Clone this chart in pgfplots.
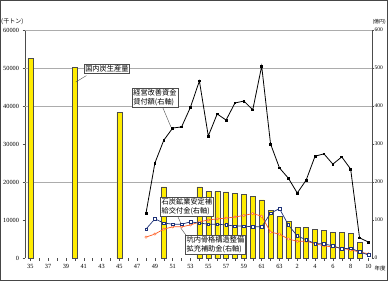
\documentclass[border=0pt]{standalone}
\usepackage{pgfplots}
\pgfplotsset{compat=1.18}
\usepackage{fontspec}
\setmainfont{Liberation Serif}
\newfontfamily\jp{Noto Sans CJK JP}
\definecolor{baryellow}{RGB}{255,236,0}
\definecolor{navy}{RGB}{30,50,120}
\definecolor{orng}{RGB}{255,90,30}
\tikzset{box/.style={draw=gray!60!black, fill=white, inner sep=1.2pt, font=\jp\fontsize{7.2}{9}\selectfont, align=left}}
\begin{document}
\begin{tikzpicture}[x=1pt,y=1pt]
\useasboundingbox (-25,-23) rectangle (363,258);
\draw[gray!55!black, line width=0.8pt] (-24.6,-22.6) rectangle (362.6,257.6);
\begin{axis}[at={(0,0)}, anchor=south west, scale only axis,
  width=347pt, height=228pt,
  xmin=1959.4, xmax=1998.4, ymin=0, ymax=60000,
  scaled y ticks=false, scaled x ticks=false,
  axis y line*=left, axis x line*=bottom,
  x axis line style={draw=none},
  y axis line style={gray!60!black, line width=0.5pt},
  xtick={1960,1962,...,1998},
  xticklabels={35,37,39,41,43,45,47,49,51,53,55,57,59,61,63,2,4,6,8,10},
  minor xtick={1961,1963,...,1997},
  tick align=outside,
  major tick length=2.5pt, minor tick length=2.5pt,
  every tick/.style={gray!60!black, line width=0.4pt},
  ytick={0,10000,...,60000},
  yticklabels={0,10000,20000,30000,40000,50000,60000},
  tick label style={font=\fontsize{6.3}{7}\selectfont},
  extra y ticks={20000,40000,50000,60000},
  extra y tick labels={},
  extra y tick style={grid=major, major grid style={gray!65, line width=0.7pt}, major tick length=0pt},
  clip=false,
]
\addplot[ybar, bar width=5pt, fill=baryellow, draw=gray!60!black, line width=0.35pt] coordinates {
(1960,52600) (1965,50100) (1970,38300) (1975,18700)
(1979,18700) (1980,17500) (1981,17500) (1982,17400) (1983,17000) (1984,16800)
(1985,16300) (1986,15300) (1987,12600) (1988,10900) (1989,9600) (1990,8100)
(1991,8100) (1992,7600) (1993,7200) (1994,6800) (1995,6700) (1996,6500) (1997,4200)
};
\node[font=\jp\fontsize{6}{7}\selectfont, anchor=east, inner sep=0.5pt] at (rel axis cs:0,1) [xshift=-1pt, yshift=8pt] {(千トン)};
\end{axis}
\begin{axis}[at={(0,0)}, anchor=south west, scale only axis,
  width=347pt, height=228pt,
  xmin=1959.4, xmax=1998.4, ymin=0, ymax=600,
  scaled y ticks=false,
  hide x axis,
  axis y line*=right,
  y axis line style={gray!60!black, line width=0.5pt},
  ytick={0,100,...,600},
  yticklabels={0,100,200,300,400,500,600},
  tick align=outside,
  major tick length=1.5pt,
  every tick/.style={gray!60!black, line width=0.4pt},
  tick label style={font=\fontsize{5.5}{6}\selectfont},
  yticklabel style={inner sep=0.8pt},
  clip=false,
]
\addplot[orng, line width=0.7pt, mark=*, mark size=1.2pt, mark options={fill=white, draw=orng, line width=0.4pt}] coordinates {
(1973,55) (1974,63) (1975,76) (1976,82) (1977,82) (1978,87) (1979,95) (1980,100)
(1981,103) (1982,105) (1983,108) (1984,112) (1985,117) (1986,110) (1987,68) (1988,63)
(1989,50) (1990,44) (1991,44) (1992,38) (1993,32) (1994,29) (1995,26) (1996,21)
(1997,16) (1998,11)
};
\addplot[navy, line width=0.7pt, mark=square*, mark size=1.3pt, mark options={fill=white, draw=navy, line width=0.4pt}] coordinates {
(1973,76) (1974,103) (1975,92) (1976,89) (1977,89) (1978,95) (1979,92) (1980,89)
(1981,89) (1982,87) (1983,84) (1984,84) (1985,82) (1986,82) (1987,118) (1988,130)
(1989,87) (1990,58) (1991,48) (1992,38) (1993,37) (1994,32) (1995,24) (1996,26)
(1997,16) (1998,8)
};
\addplot[black, line width=0.8pt, mark=square*, mark size=0.9pt] coordinates {
(1973,118) (1974,250) (1975,310) (1976,342) (1977,345) (1978,397) (1979,466) (1980,321)
(1981,379) (1982,363) (1983,408) (1984,413) (1985,390) (1986,505) (1987,300) (1988,237)
(1989,210) (1990,171) (1991,205) (1992,268) (1993,274) (1994,247) (1995,266) (1996,234)
(1997,53) (1998,42)
};
\draw[gray!60!black, line width=0.4pt] (axis cs:1966.3,480) -- (axis cs:1965.1,463);
\node[box] at (axis cs:1968.6,499) {国内炭生産量};
\draw[gray!60!black, line width=0.4pt] (axis cs:1974.9,395) -- (axis cs:1975.8,345);
\node[box] at (axis cs:1974.0,422) {経営改善資金\\貸付額(右軸)};
\draw[gray!60!black, line width=0.4pt] (axis cs:1976.6,108) -- (axis cs:1976.9,92);
\node[box] at (axis cs:1977.6,134) {石炭鉱業安定補\\給交付金(右軸)};
\draw[gray!60!black, line width=0.4pt] (axis cs:1977.5,60) -- (axis cs:1976.9,79);
\node[box] at (axis cs:1980.8,35.5) {坑内骨格構造整備\\拡充補助金(右軸)};
\node[font=\jp\fontsize{5}{6}\selectfont, anchor=west, inner sep=0.3pt] at (rel axis cs:1,1) [xshift=0pt, yshift=8pt] {(億円)};
\node[font=\jp\fontsize{5.5}{6}\selectfont, anchor=west, inner sep=0.5pt] at (rel axis cs:1,0) [xshift=2pt, yshift=-10pt] {年度};
\end{axis}
\end{tikzpicture}
\end{document}
